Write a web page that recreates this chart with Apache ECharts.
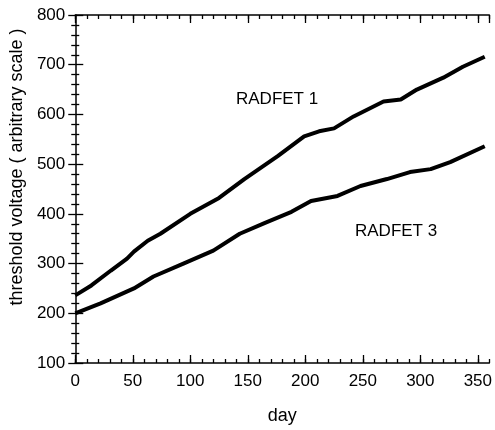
<!DOCTYPE html>
<html>
<head>
    <meta charset="utf-8">
    <title>RADFET threshold voltage</title>
    <script src="https://cdn.jsdelivr.net/npm/echarts@6/dist/echarts.min.js"></script>
</head>
<body style="margin:0;background:#fff;">
    <div id="main" style="width:495px;height:430px;"></div>
    <script type="text/javascript">
        // values (day, threshold voltage)
        var days1  = [0, 14, 31, 45, 51, 63, 74, 100, 125, 147, 176, 199, 212, 225, 242, 268, 283, 297, 320, 337, 356];
        var volts1 = [236, 256, 286, 310, 324, 346, 360, 400, 432, 470, 516, 556, 566, 572, 596, 626, 630, 650, 674, 696, 716];
        var days3  = [0, 22, 51, 68, 94, 120, 143, 165, 188, 205, 228, 248, 271, 291, 309, 326, 356];
        var volts3 = [200, 220, 250, 274, 300, 326, 360, 382, 404, 426, 436, 456, 470, 484, 490, 504, 536];
        var seriesNames = ['RADFET 1', 'RADFET 3'];

        var font = 'Liberation Sans, Arial, sans-serif';
        var myChart = echarts.init(document.getElementById('main'));

        function pairs(xs, ys) {
            var out = [];
            for (var i = 0; i < xs.length; i++) out.push([xs[i], ys[i]]);
            return out;
        }

        // ticks point into the plot: negative length flips them
        function tick(len) {
            return { show: true, inside: false, length: -len, lineStyle: { color: '#000', width: 1.3 } };
        }
        function minor(len) {
            return { show: true, splitNumber: 5, length: -len, lineStyle: { color: '#000', width: 1.3 } };
        }

        // one x axis with long ticks every 50 and one with short ticks every 10
        function xAx(pos, step, len, labels, line) {
            return {
                type: 'value', position: pos, min: 0, max: 360, interval: step,
                axisLine: { show: line, onZero: false, lineStyle: { color: '#000', width: 1.5 } },
                axisTick: tick(len),
                axisLabel: { show: labels, showMaxLabel: false, margin: 10, color: '#000', fontSize: 17, fontFamily: font },
                splitLine: { show: false }
            };
        }

        var option = {
            backgroundColor: '#fff',
            animation: false,
            grid: { left: 75, right: 2, top: 15, bottom: 65 },
            xAxis: [
                Object.assign(xAx('bottom', 50, 8, true, true), {
                    name: 'day', nameLocation: 'middle', nameGap: 44,
                    nameTextStyle: { color: '#000', fontSize: 18, fontFamily: font }
                }),
                xAx('bottom', 10, 4, false, false),
                xAx('top', 50, 8, false, true),
                xAx('top', 10, 4, false, false)
            ],
            yAxis: [
                {
                    type: 'value', position: 'left', min: 100, max: 800, interval: 100,
                    name: 'threshold voltage ( arbitrary scale )', nameLocation: 'middle', nameGap: 46,
                    nameTextStyle: { color: '#000', fontSize: 18, fontFamily: font, padding: [0, 0, 0, 44] },
                    axisLine: { show: true, lineStyle: { color: '#000', width: 1.5 } },
                    axisTick: tick(8),
                    minorTick: minor(4),
                    axisLabel: { margin: 10, color: '#000', fontSize: 17, fontFamily: font },
                    splitLine: { show: false }
                },
                {
                    type: 'value', position: 'right', min: 100, max: 800, interval: 100,
                    axisLine: { show: false },
                    axisTick: tick(7),
                    minorTick: minor(4),
                    axisLabel: { show: false },
                    splitLine: { show: false }
                }
            ],
            graphic: [
                { type: 'text', x: 236, y: 99, style: { text: seriesNames[0], fill: '#000', font: '17px ' + font, verticalAlign: 'middle' } },
                { type: 'text', x: 355, y: 231, style: { text: seriesNames[1], fill: '#000', font: '17px ' + font, verticalAlign: 'middle' } }
            ],
            series: [
                {
                    name: seriesNames[0], type: 'line', xAxisIndex: 0, yAxisIndex: 0,
                    showSymbol: false, lineStyle: { color: '#000', width: 4 },
                    data: pairs(days1, volts1)
                },
                {
                    name: seriesNames[1], type: 'line', xAxisIndex: 0, yAxisIndex: 0,
                    showSymbol: false, lineStyle: { color: '#000', width: 4 },
                    data: pairs(days3, volts3)
                }
            ]
        };
        myChart.setOption(option);
    </script>
</body>
</html>
